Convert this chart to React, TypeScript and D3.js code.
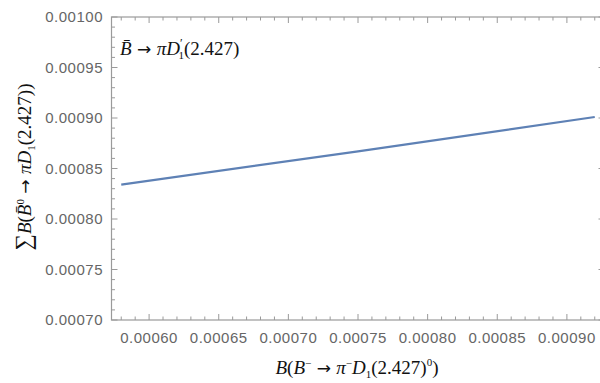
import React from 'react';
import * as d3 from 'd3';

// values
const xTicks = [0.0006, 0.00065, 0.0007, 0.00075, 0.0008, 0.00085, 0.0009];
const yTicks = [0.0007, 0.00075, 0.0008, 0.00085, 0.0009, 0.00095, 0.001];
const lineX = [0.00058, 0.00075, 0.00092];
const lineY = [0.000834, 0.000867, 0.000901];

const W = 600;
const H = 383;
const frame = { left: 111.5, top: 17, right: 604.5, bottom: 320 };

const serif = "'Liberation Serif', 'Times New Roman', serif";
const arrowFont = "'DejaVu Sans', sans-serif";

const App = () => {
  const x = d3.scaleLinear().domain([0.000573, 0.000927]).range([frame.left, frame.right]);
  const y = d3.scaleLinear().domain([0.0007, 0.001]).range([frame.bottom, frame.top]);

  const minorX = d3.range(0.00057, 0.00093, 0.00001).filter(v => v >= 0.000573 && v <= 0.000927);
  const minorY = d3.range(0.0007, 0.0010001, 0.00001);

  const pts = lineX.map((v, i) => [v, lineY[i]] as [number, number]);
  const line = d3.line<[number, number]>().x(d => x(d[0])).y(d => y(d[1]));

  const isMajor = (v: number, ticks: number[]) => ticks.some(t => Math.abs(t - v) < 1e-9);
  const fmt = (v: number) => v.toFixed(5);
  const frameColor = '#9a9a9a';
  const labelColor = '#666';

  return (
    <svg width={W} height={H} style={{ position: 'absolute', left: 0, top: 0, background: '#fff' }}>
      {/* frame */}
      <rect x={frame.left} y={frame.top} width={frame.right - frame.left} height={frame.bottom - frame.top}
        fill="none" stroke={frameColor} strokeWidth={1.2} />

      {/* x ticks bottom & top */}
      {minorX.map((v, i) => {
        const len = isMajor(v, xTicks) ? 6 : 3.5;
        return (
          <g key={'xt' + i} stroke={frameColor} strokeWidth={1}>
            <line x1={x(v)} x2={x(v)} y1={frame.bottom} y2={frame.bottom - len} />
            <line x1={x(v)} x2={x(v)} y1={frame.top} y2={frame.top + len} />
          </g>
        );
      })}
      {/* y ticks left & right */}
      {minorY.map((v, i) => {
        const len = isMajor(v, yTicks) ? 6 : 3.5;
        return (
          <g key={'yt' + i} stroke={frameColor} strokeWidth={1}>
            <line x1={frame.left} x2={frame.left + len} y1={y(v)} y2={y(v)} />
            <line x1={frame.right} x2={frame.right - len} y1={y(v)} y2={y(v)} />
          </g>
        );
      })}

      {/* tick labels */}
      <g fontFamily="'Liberation Sans', Arial, sans-serif" fontSize={15} fill={labelColor} letterSpacing={0.5}>
        {xTicks.map(v => (
          <text key={'xl' + v} x={x(v)} y={343} textAnchor="middle">{fmt(v)}</text>
        ))}
        {yTicks.map(v => (
          <text key={'yl' + v} x={103} y={y(v)} dy="0.35em" textAnchor="end">{fmt(v)}</text>
        ))}
      </g>

      {/* data line */}
      <path d={line(pts) || ''} fill="none" stroke="#5E81B5" strokeWidth={2.2} />

      {/* inset label */}
      <text x={120} y={55} fontFamily={serif} fontSize={19} fill="#111">
        <tspan fontStyle="italic">B&#772;</tspan>
        <tspan fontFamily={arrowFont} fontSize={17}> → </tspan>
        <tspan fontStyle="italic">πD</tspan>
        <tspan fontSize={12} dy={-8}>′</tspan>
        <tspan fontSize={11} dy={12} dx={-4}>1</tspan>
        <tspan dy={-4}>(2.427)</tspan>
      </text>

      {/* x axis label */}
      <text x={357} y={374} textAnchor="middle" fontFamily={serif} fontSize={19} fill="#111">
        <tspan fontStyle="italic">B</tspan>
        <tspan>(</tspan>
        <tspan fontStyle="italic">B</tspan>
        <tspan fontSize={11} dy={-7}>−</tspan>
        <tspan dy={7} fontFamily={arrowFont} fontSize={17}> → </tspan>
        <tspan fontStyle="italic">π</tspan>
        <tspan fontSize={11} dy={-7}>−</tspan>
        <tspan fontStyle="italic" dy={7}>D</tspan>
        <tspan fontSize={11} dy={4}>1</tspan>
        <tspan dy={-4}>(2.427)</tspan>
        <tspan fontSize={11} dy={-8}>0</tspan>
        <tspan dy={8}>)</tspan>
      </text>

      {/* y axis label */}
      <text transform={`translate(31,${167}) rotate(-90)`} textAnchor="middle"
        fontFamily={serif} fontSize={19} fill="#111">
        <tspan fontSize={23}>∑</tspan>
        <tspan fontStyle="italic">B</tspan>
        <tspan>(</tspan>
        <tspan fontStyle="italic">B&#772;</tspan>
        <tspan fontSize={11} dy={-7}>0</tspan>
        <tspan dy={7} fontFamily={arrowFont} fontSize={17}> → </tspan>
        <tspan fontStyle="italic">πD</tspan>
        <tspan fontSize={11} dy={4}>1</tspan>
        <tspan dy={-4}>(2.427))</tspan>
      </text>
    </svg>
  );
};

export default App;
